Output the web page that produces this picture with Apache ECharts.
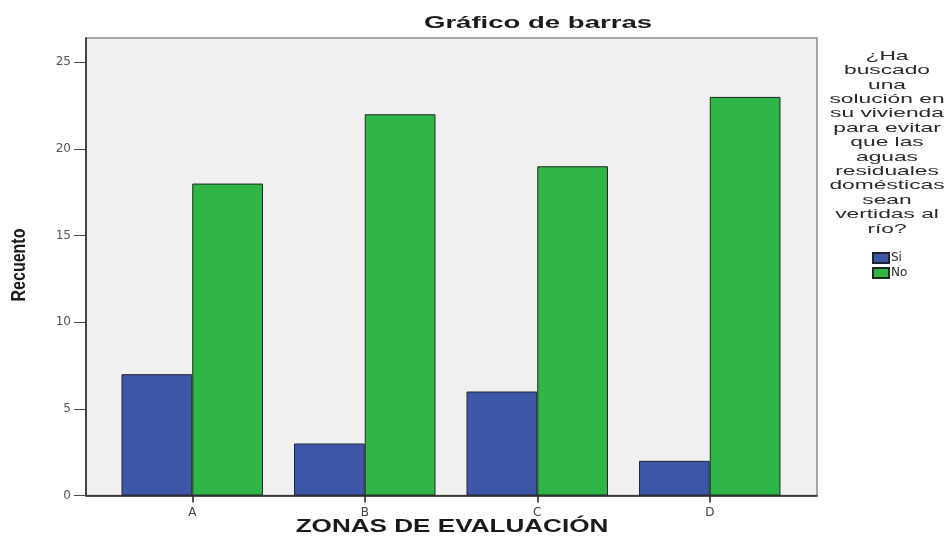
<!DOCTYPE html>
<html>
<head>
<meta charset="utf-8">
<script src="https://cdn.jsdelivr.net/npm/echarts@6/dist/echarts.min.js"></script>
<style>
  html, body { margin: 0; padding: 0; background: #fff; }
  #chart { width: 952px; height: 543px; }
</style>
</head>
<body>
<div id="chart"></div>
<script>
// Zonas de evaluación y recuentos por respuesta
const zonas = ['A', 'B', 'C', 'D'];
const valoresSi = [7, 3, 6, 2];
const valoresNo = [18, 22, 19, 23];
const marcasEje = [0, 5, 10, 15, 20, 25];
const tituloLeyenda = ['¿Ha', 'buscado', 'una', 'solución en', 'su vivienda', 'para evitar',
  'que las', 'aguas', 'residuales', 'domésticas', 'sean', 'vertidas al', 'río?'];

const yMax = 26.4;
const font = 'Liberation Sans, Arial, sans-serif';
const fontAncho = 'DejaVu Sans, Verdana, sans-serif';

const chart = echarts.init(document.getElementById('chart'), null, { renderer: 'canvas' });

// Wide, stretched text blocks (title, axis names, legend heading)
const textos = [
  { type: 'text', x: 538, y: 23, scaleX: 1.62,
    style: { text: 'Gráfico de barras', font: 'bold 17px ' + font, fill: '#1a1a1a',
      textAlign: 'center', textVerticalAlign: 'middle' } },
  { type: 'text', x: 452, y: 527, scaleX: 1.45,
    style: { text: 'ZONAS DE EVALUACIÓN', font: 'bold 18px ' + font, fill: '#1a1a1a',
      textAlign: 'center', textVerticalAlign: 'middle' } },
  { type: 'text', x: 19, y: 265, rotation: Math.PI / 2, scaleY: 1.3,
    style: { text: 'Recuento', font: 'bold 16px ' + font, fill: '#1a1a1a',
      textAlign: 'center', textVerticalAlign: 'middle' } },
  { type: 'text', x: 887, y: 56, scaleX: 1.75,
    style: { text: tituloLeyenda.join('\n'), font: '13px ' + font, fill: '#2a2a2a',
      lineHeight: 14.4, textAlign: 'center', textVerticalAlign: 'top' },
    originY: 0 }
];
textos[3].y = 49;

chart.setOption({
  animation: false,
  backgroundColor: '#ffffff',
  graphic: textos,
  legend: {
    orient: 'vertical',
    left: 867, top: 247,
    itemWidth: 16, itemHeight: 10, itemGap: 3,
    icon: 'rect',
    textStyle: { fontFamily: fontAncho, fontSize: 12, color: '#2a2a2a', padding: [0, 0, 0, -3] },
    data: ['Si', 'No']
  },
  grid: [
    // frame of the plotting area
    { left: 86, top: 38, width: 731, height: 457.5, show: true, backgroundColor: '#f0f0f0',
      borderColor: '#8a8a8a', borderWidth: 1.5, outerBoundsMode: 'none', containLabel: false },
    // bars area, inset from the frame
    { left: 106, top: 38, width: 690, height: 457.5, outerBoundsMode: 'none', containLabel: false }
  ],
  xAxis: [
    {
      gridIndex: 0, type: 'category', data: [''],
      axisLine: { show: true, lineStyle: { color: '#222', width: 1.5 } },
      axisTick: { show: false }, axisLabel: { show: false }, splitLine: { show: false }
    },
    {
      gridIndex: 1, type: 'category', data: zonas,
      axisLine: { show: false },
      axisTick: { show: true, alignWithLabel: true, length: 7, lineStyle: { color: '#222', width: 1.5 } },
      axisLabel: { fontFamily: fontAncho, fontSize: 12, color: '#444', margin: 11 }
    }
  ],
  yAxis: [
    {
      gridIndex: 0, type: 'value', min: 0, max: yMax,
      axisLine: { show: true, lineStyle: { color: '#222', width: 1.5 } },
      axisTick: { show: true, length: 12, customValues: marcasEje, lineStyle: { color: '#444' } },
      axisLabel: { fontFamily: fontAncho, fontSize: 12, color: '#555', margin: 15, customValues: marcasEje },
      splitLine: { show: false }
    },
    {
      gridIndex: 1, type: 'value', min: 0, max: yMax, show: false, splitLine: { show: false }
    }
  ],
  series: [
    {
      name: 'Si', type: 'bar', xAxisIndex: 1, yAxisIndex: 1,
      data: valoresSi, barGap: '0%', barCategoryGap: '18%',
      itemStyle: { color: '#3d56a8', borderColor: '#1e2430', borderWidth: 1 }
    },
    {
      name: 'No', type: 'bar', xAxisIndex: 1, yAxisIndex: 1,
      data: valoresNo, barGap: '0%', barCategoryGap: '18%',
      itemStyle: { color: '#2fb548', borderColor: '#1e2a20', borderWidth: 1 }
    }
  ]
});
</script>
</body>
</html>
